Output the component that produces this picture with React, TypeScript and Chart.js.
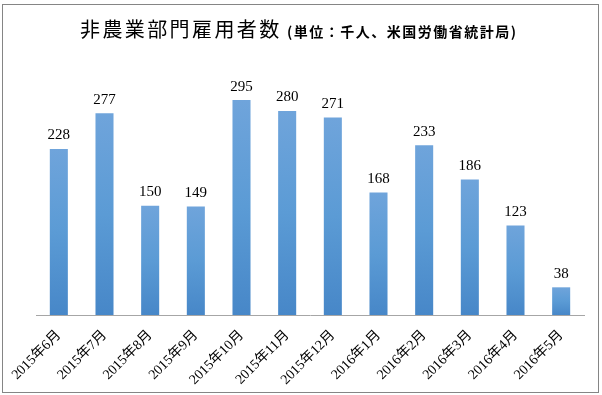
import React, { useEffect, useRef } from "react";
import { Chart, registerables } from "chart.js";

Chart.register(...registerables);

const categories = [
  "2015年6月", "2015年7月", "2015年8月", "2015年9月", "2015年10月", "2015年11月",
  "2015年12月", "2016年1月", "2016年2月", "2016年3月", "2016年4月", "2016年5月",
];
const payrolls = [228, 277, 150, 149, 295, 280, 271, 168, 233, 186, 123, 38];
const titleMain = "非農業部門雇用者数";
const titleSub = "(単位：千人、米国労働省統計局)";

const SERIF = "'Liberation Serif', 'Times New Roman', 'Noto Sans CJK JP', serif";
const CJK = "'Noto Sans CJK JP', sans-serif";

const decorPlugin = {
  id: "decor",
  beforeDraw(chart: any) {
    const ctx = chart.ctx;
    ctx.save();
    ctx.fillStyle = "#ffffff";
    ctx.fillRect(0, 0, chart.width, chart.height);
    ctx.strokeStyle = "#858585";
    ctx.lineWidth = 1;
    ctx.strokeRect(2.5, 4.5, 596, 388);
    ctx.fillStyle = "#000000";
    ctx.textBaseline = "middle";
    ctx.textAlign = "left";
    ctx.font = `400 20px ${CJK}`;
    (ctx as any).letterSpacing = "2.4px";
    ctx.fillText(titleMain, 80, 29);
    ctx.font = `700 14px ${CJK}`;
    (ctx as any).letterSpacing = "1.5px";
    ctx.fillText(titleSub, 287, 32);
    (ctx as any).letterSpacing = "0px";
    ctx.restore();
  },
  afterDatasetsDraw(chart: any) {
    const ctx = chart.ctx;
    const meta = chart.getDatasetMeta(0);
    ctx.save();
    ctx.fillStyle = "#000000";
    ctx.font = `15px ${SERIF}`;
    ctx.textAlign = "center";
    ctx.textBaseline = "bottom";
    meta.data.forEach((bar: any, i: number) => {
      ctx.fillText(String(payrolls[i]), bar.x, bar.y - 6);
    });
    ctx.restore();
  },
};

export default function App() {
  const ref = useRef<HTMLCanvasElement | null>(null);
  useEffect(() => {
    document.body.style.margin = "0";
    const canvas = ref.current!;
    const chart = new Chart(canvas, {
      type: "bar",
      data: {
        labels: categories,
        datasets: [
          {
            data: payrolls,
            backgroundColor: (c: any) => {
              const ch = c.chart;
              const ys = ch.scales && ch.scales.y;
              if (!ys || !ch.chartArea) return "#5b9bd5";
              const v = c.raw ?? 0;
              const top = ys.getPixelForValue(v);
              const base = ys.getPixelForValue(0);
              if (!isFinite(top) || !isFinite(base) || top === base) return "#5b9bd5";
              const g = ch.ctx.createLinearGradient(0, top, 0, base);
              g.addColorStop(0, "#6fa4db");
              g.addColorStop(0.5, "#5b9bd5");
              g.addColorStop(1, "#4787c8");
              return g;
            },
            borderWidth: 0,
            barPercentage: 0.395,
            categoryPercentage: 1,
          },
        ],
      },
      options: {
        animation: false,
        responsive: false,
        maintainAspectRatio: false,
        layout: { padding: { left: 36, right: 18, top: 60, bottom: 0 } },
        plugins: { legend: { display: false }, title: { display: false }, tooltip: { enabled: false } },
        scales: {
          x: {
            offset: true,
            grid: { display: false, drawTicks: false },
            border: { display: true, color: "#a6a6a6", width: 1 },
            ticks: {
              color: "#000000",
              font: { family: SERIF, size: 14 },
              minRotation: 45,
              maxRotation: 45,
              padding: 12,
              autoSkip: false,
            },
            afterFit: (s: any) => {
              s.height = 80;
            },
          },
          y: {
            display: false,
            min: 0,
            max: 350,
          },
        },
      },
      plugins: [decorPlugin],
    } as any);
    return () => chart.destroy();
  }, []);
  return (
    <div style={{ width: 602, height: 395, position: "relative" }}>
      <canvas ref={ref} width={602} height={395} style={{ display: "block", width: 602, height: 395 }} />
    </div>
  );
}
